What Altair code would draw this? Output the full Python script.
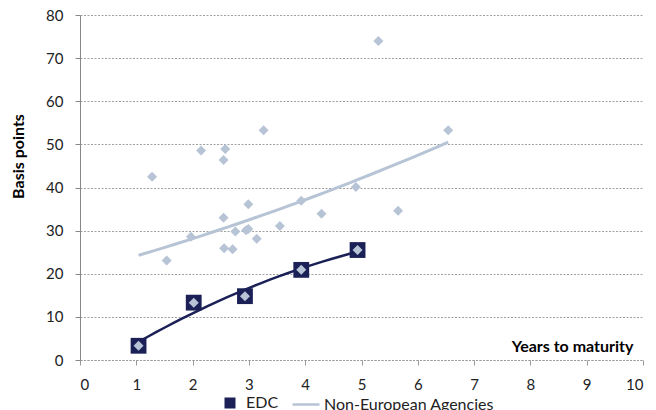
import altair as alt
import pandas as pd

# Non-European agencies (light diamonds)
agency_x = [1.28, 1.54, 1.97, 2.15, 2.55, 2.55, 2.58, 2.56, 2.71, 2.76, 2.95, 2.99, 2.99, 3.14, 3.26, 3.55, 3.93, 4.29, 4.90, 5.30, 5.65, 6.54]
agency_y = [42.5, 23.1, 28.6, 48.6, 46.4, 33.0, 48.9, 25.9, 25.7, 29.8, 30.1, 30.4, 36.1, 28.1, 53.3, 31.1, 36.9, 33.9, 40.1, 74.0, 34.6, 53.3]
# EDC
edc_x = [1.04, 2.02, 2.93, 3.93, 4.93]
edc_y = [3.3, 13.3, 14.8, 20.9, 25.5]

NAVY = "#1b2157"
LIGHT = "#b7c4d6"
FONT = "Lato"

agency = pd.DataFrame({"x": agency_x, "y": agency_y})
edc = pd.DataFrame({"x": edc_x, "y": edc_y})
alldiam = pd.concat([agency, edc], ignore_index=True)

xs = alt.X("x:Q", scale=alt.Scale(domain=[0, 10]),
           axis=alt.Axis(values=list(range(11)), format="d", grid=False, title="Years to maturity",
                         titleX=553, titleY=-9, titleAlign="right", titleBaseline="alphabetic",
                         titleFont=FONT, titleFontSize=16, titleFontWeight="bold", titleColor="#000",
                         labelFont=FONT, labelFontSize=15, labelColor="#222", labelPadding=12,
                         domainColor="#999", domainDash=[2, 1.5], tickColor="#999", tickSize=5))
ys = alt.Y("y:Q", scale=alt.Scale(domain=[0, 80]),
           axis=alt.Axis(values=list(range(0, 81, 10)), format="d", title="Basis points",
                         titleX=-54, titleY=141, titleAlign="center", titleAngle=-90,
                         titleFont=FONT, titleFontSize=16, titleFontWeight="bold", titleColor="#000",
                         labelFont=FONT, labelFontSize=15, labelColor="#222", labelPadding=12,
                         gridColor="#a0a0a0", gridDash=[2, 1.5], gridWidth=1,
                         domainColor="#888", tickColor="#888", tickSize=5))

squares = alt.Chart(edc).mark_point(shape="square", filled=True, size=250, opacity=1).encode(
    x=xs, y=ys,
    fill=alt.Fill("s:N", scale=alt.Scale(domain=["EDC"], range=[NAVY]),
                  legend=alt.Legend(title=None, orient="none", legendX=142, legendY=380,
                                    symbolType="square", symbolSize=121, labelFont=FONT,
                                    labelFontSize=16, labelColor="#222", labelOffset=8,
                                    labelLimit=400, padding=0))
).transform_calculate(s="'EDC'")

diamonds = alt.Chart(alldiam).mark_point(shape="diamond", filled=True, size=100, color=LIGHT, opacity=1).encode(x="x:Q", y="y:Q")

edc_fit = alt.Chart(edc).transform_regression("x", "y", method="poly", order=2).mark_line(
    color=NAVY, strokeWidth=2.5).encode(x="x:Q", y="y:Q")

agency_fit = alt.Chart(alldiam).transform_regression("x", "y", method="poly", order=2).transform_calculate(
    s="'Non-European Agencies'").mark_line(strokeWidth=3).encode(
    x="x:Q", y="y:Q",
    stroke=alt.Stroke("s:N", scale=alt.Scale(domain=["Non-European Agencies"], range=[LIGHT]),
                      legend=alt.Legend(title=None, orient="none", legendX=211, legendY=374.5,
                                        symbolType="stroke", symbolSize=729, symbolStrokeWidth=2.5,
                                        labelFont=FONT, labelFontSize=16, labelColor="#222",
                                        labelOffset=3, labelLimit=400, padding=0)))

chart = alt.layer(squares, edc_fit, agency_fit, diamonds).properties(
    width=563, height=345,
    autosize=alt.AutoSizeParams(type="none"),
    padding={"left": 72, "top": 7, "right": 5, "bottom": 52},
).resolve_legend(fill="independent", stroke="independent").configure_view(stroke=None)

chart.save("out.html", embed_options={"renderer": "svg", "actions": False})
